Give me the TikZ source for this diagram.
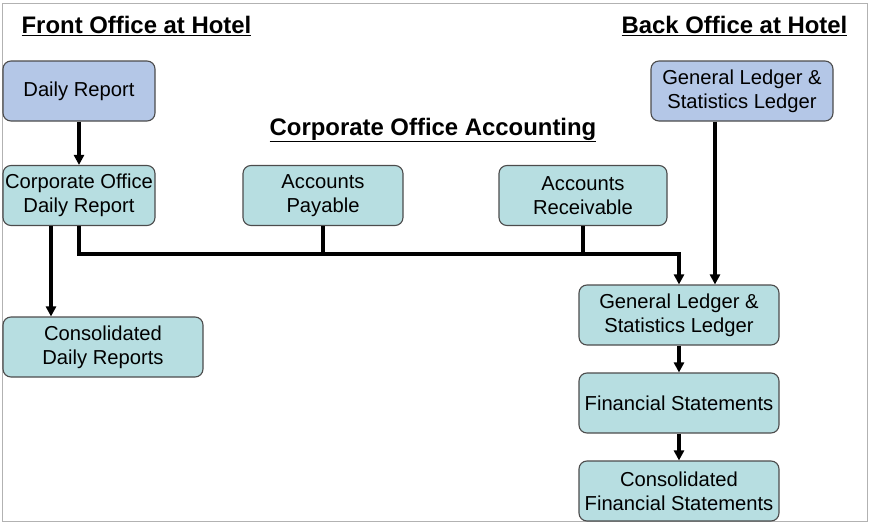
\documentclass[tikz,border=0pt]{standalone}
\usepackage{fontspec}
\setmainfont{Liberation Sans}
\usetikzlibrary{arrows.meta}
\definecolor{hotelblue}{RGB}{180,199,231}
\definecolor{corpteal}{RGB}{183,222,225}

\begin{document}
\begin{tikzpicture}[x=1pt, y=-1pt,
    box/.style={draw=black!70, line width=1.1pt, rounded corners=8pt, align=center, inner sep=0pt,
      minimum height=60pt, font=\fontsize{20.2}{24}\selectfont},
    hotelbox/.style={box, fill=hotelblue},
    corpbox/.style={box, fill=corpteal},
    heading/.style={font=\fontsize{23.9}{28}\selectfont\bfseries},
    link/.style={line width=3.2pt},
    arr/.style={link, -{Triangle[length=10pt,width=10pt]}}]
  \useasboundingbox (0,0) rectangle (871,525);
  \draw[gray!60, line width=1pt] (2,3) rectangle (867,521);
  % headings
  \node[heading] (front) at (136.5,26) {\underline{Front Office at Hotel}};
  \node[heading] (back) at (734.5,26) {\underline{Back Office at Hotel}};
  \node[heading] (corp) at (433,130) {\underline{Corporate Office Accounting}};
  % boxes
  \node[hotelbox, minimum width=152pt] (daily) at (79,91) {Daily Report};
  \node[corpbox, minimum width=152pt] (corpdaily) at (79,195.5) {Corporate Office\\Daily Report};
  \node[corpbox, minimum width=160pt] (ap) at (323,195.5) {Accounts\\Payable};
  \node[corpbox, minimum width=168pt] (ar) at (583,195.5) {Accounts\\Receivable};
  \node[hotelbox, minimum width=182pt] (backgl) at (742,91) {General Ledger \&\\Statistics Ledger};
  \node[corpbox, minimum width=200pt] (consdaily) at (103,347) {Consolidated\\Daily Reports};
  \node[corpbox, minimum width=200pt] (gl) at (679,315) {General Ledger \&\\Statistics Ledger};
  \node[corpbox, minimum width=200pt] (fs) at (679,403) {Financial Statements};
  \node[corpbox, minimum width=200pt] (cfs) at (679,491) {Consolidated\\Financial Statements};
  % connectors
  \coordinate (bus) at (0,254);
  \draw[arr] (daily) -- (corpdaily);
  \draw[arr] ([xshift=-28pt]corpdaily.south) -- ([xshift=-28pt]corpdaily.south |- consdaily.north);
  \draw[arr] (corpdaily.south) -- (corpdaily.south |- bus) -- (gl.north |- bus) -- (gl.north);
  \draw[link] (ap.south) -- (ap.south |- bus);
  \draw[link] (ar.south) -- (ar.south |- bus);
  \draw[arr] ([xshift=-27pt]backgl.south) -- ([xshift=-27pt]backgl.south |- gl.north);
  \draw[arr] (gl) -- (fs);
  \draw[arr] (fs) -- (cfs);
\end{tikzpicture}
\end{document}
